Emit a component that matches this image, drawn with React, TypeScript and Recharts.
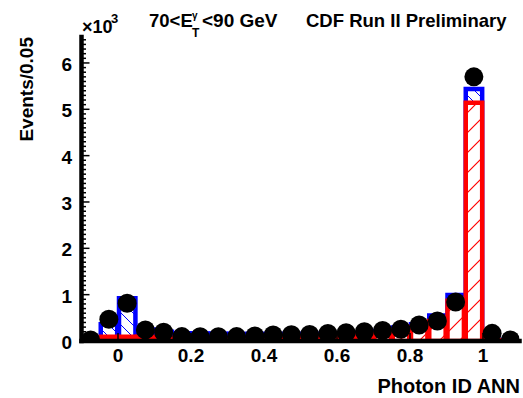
import { Bar, ComposedChart, Line, XAxis, YAxis } from "recharts";

// bins of 0.05 in Photon ID ANN output
const binCenters = [
	-0.075, -0.025, 0.025, 0.075, 0.125, 0.175, 0.225, 0.275, 0.325, 0.375, 0.425, 0.475,
	0.525, 0.575, 0.625, 0.675, 0.725, 0.775, 0.825, 0.875, 0.925, 0.975, 1.025, 1.075,
];
// blue: photon + background template sum
const totalMC = [
	0, 360, 920, 250, 200, 165, 160, 155, 150, 150, 150, 150,
	150, 155, 165, 180, 215, 290, 360, 550, 990, 5440, 25, 0,
];
// red: photon template
const photonMC = [
	0, 90, 90, 90, 70, 60, 55, 55, 55, 60, 65, 70,
	80, 90, 100, 120, 150, 230, 300, 430, 870, 5140, 15, 0,
];
// black points: data
const dataEvents = [
	20, 470, 815, 240, 190, 95, 90, 90, 95, 110, 130, 135,
	140, 160, 180, 200, 225, 255, 345, 430, 840, 5700, 165, 20,
];
const xTicks = [0, 0.2, 0.4, 0.6, 0.8, 1];
const yTicks = Array.from({ length: 66 }, (_, i) => i * 100);

const X_DOMAIN: [number, number] = [-0.1, 1.1];
const Y_DOMAIN: [number, number] = [0, 6560];
const FONT = "'Liberation Sans', Arial, Helvetica, sans-serif";

const rows = binCenters.map((x, i) => ({
	x,
	total: totalMC[i],
	photon: photonMC[i],
	data: dataEvents[i],
}));

const frame = { stroke: "#000", strokeWidth: 4.5, strokeLinecap: "square" as const };

const BottomTick = (props: any) => {
	const { x, y, payload } = props;
	return (
		<g>
			<line x1={x} x2={x} y1={y} y2={y - 8} stroke="#000" strokeWidth={1.5} />
			<text x={x} y={y + 21} textAnchor="middle" fontSize={19} fontWeight="bold" fontFamily={FONT} fill="#000">
				{payload.value}
			</text>
		</g>
	);
};

const TopTick = (props: any) => {
	const { x, y } = props;
	return <line x1={x} x2={x} y1={y} y2={y + 8} stroke="#000" strokeWidth={1.5} />;
};

const LeftTick = (props: any) => {
	const { x, y, payload } = props;
	const major = payload.value % 1000 === 0;
	return (
		<g>
			<line x1={x} x2={x + (major ? 8 : 4.5)} y1={y} y2={y} stroke="#000" strokeWidth={1.5} />
			{major && (
				<text x={x - 9.5} y={y + 8} textAnchor="end" fontSize={19} fontWeight="bold" fontFamily={FONT} fill="#000">
					{payload.value / 1000}
				</text>
			)}
		</g>
	);
};

const RightTick = (props: any) => {
	const { x, y, payload } = props;
	const len = payload.value % 1000 === 0 ? 8 : 4.5;
	return <line x1={x} x2={x - len} y1={y} y2={y} stroke="#000" strokeWidth={1.5} />;
};

export default function App() {
	return (
		<div style={{ position: "absolute", left: 0, top: 0, width: 523, height: 398, background: "#fff" }}>
			<ComposedChart width={523} height={398} data={rows} margin={{ top: 37, right: 3.5, bottom: 0, left: 0 }}>
				<XAxis
					dataKey="x"
					type="number"
					domain={X_DOMAIN}
					allowDataOverflow
					ticks={xTicks}
					interval={0}
					height={57}
					tickSize={0}
					tickMargin={0}
					tickLine={false}
					axisLine={frame}
					tick={<BottomTick />}
				/>
				<XAxis
					xAxisId="top"
					orientation="top"
					dataKey="x"
					type="number"
					domain={X_DOMAIN}
					allowDataOverflow
					ticks={xTicks}
					interval={0}
					height={0}
					tickSize={0}
					tickMargin={0}
					tickLine={false}
					axisLine={frame}
					tick={<TopTick />}
				/>
				<XAxis xAxisId="photon" dataKey="x" type="number" domain={X_DOMAIN} allowDataOverflow hide />
				<YAxis
					type="number"
					domain={Y_DOMAIN}
					allowDataOverflow
					ticks={yTicks}
					interval={0}
					width={81.5}
					tickSize={0}
					tickMargin={0}
					tickLine={false}
					axisLine={frame}
					tick={<LeftTick />}
				/>
				<YAxis
					yAxisId="right"
					orientation="right"
					type="number"
					domain={Y_DOMAIN}
					allowDataOverflow
					ticks={yTicks}
					interval={0}
					width={0}
					tickSize={0}
					tickMargin={0}
					tickLine={false}
					axisLine={frame}
					tick={<RightTick />}
				/>
				<Bar dataKey="total" barSize={18.25} fill="url(#hatchBlue)" stroke="#0000ff" strokeWidth={4.5} isAnimationActive={false} />
				<Bar dataKey="photon" xAxisId="photon" barSize={18.25} fill="url(#hatchRed)" stroke="#ff0000" strokeWidth={4.5} isAnimationActive={false} />
				<Line dataKey="data" stroke="none" dot={{ r: 9.5, fill: "#000", stroke: "none" }} activeDot={false} isAnimationActive={false} />
			</ComposedChart>
			<svg width={523} height={398} style={{ position: "absolute", left: 0, top: 0, pointerEvents: "none" }} fontFamily={FONT} fontWeight="bold">
				<defs>
					<pattern id="hatchRed" patternUnits="userSpaceOnUse" width="20" height="20">
						<rect width="20" height="20" fill="#fff" />
						<path d="M0,20 L20,0 M-5,5 L5,-5 M15,25 L25,15" stroke="#ff0000" strokeWidth="1.2" />
					</pattern>
					<pattern id="hatchBlue" patternUnits="userSpaceOnUse" width="12" height="12">
						<path d="M0,0 L12,12 M-3,9 L3,15 M9,-3 L15,3" stroke="#0000ff" strokeWidth="1" />
					</pattern>
				</defs>
				<text x={82} y={33} fontSize={18}>×10</text>
				<text x={111} y={23} fontSize={13}>3</text>
				<text x={149} y={26.5} fontSize={18.5}>70&lt;E</text>
				<text x={192} y={19} fontSize={10}>γ</text>
				<text x={192} y={37} fontSize={12}>T</text>
				<text x={202} y={26.5} fontSize={19}>&lt;90 GeV</text>
				<text x={306} y={26.5} fontSize={18.5}>CDF Run II Preliminary</text>
				<text x={520} y={393} fontSize={20} textAnchor="end">Photon ID ANN</text>
				<text x={33} y={37} fontSize={19} textAnchor="end" transform="rotate(-90 33 37)">Events/0.05</text>
			</svg>
		</div>
	);
}
